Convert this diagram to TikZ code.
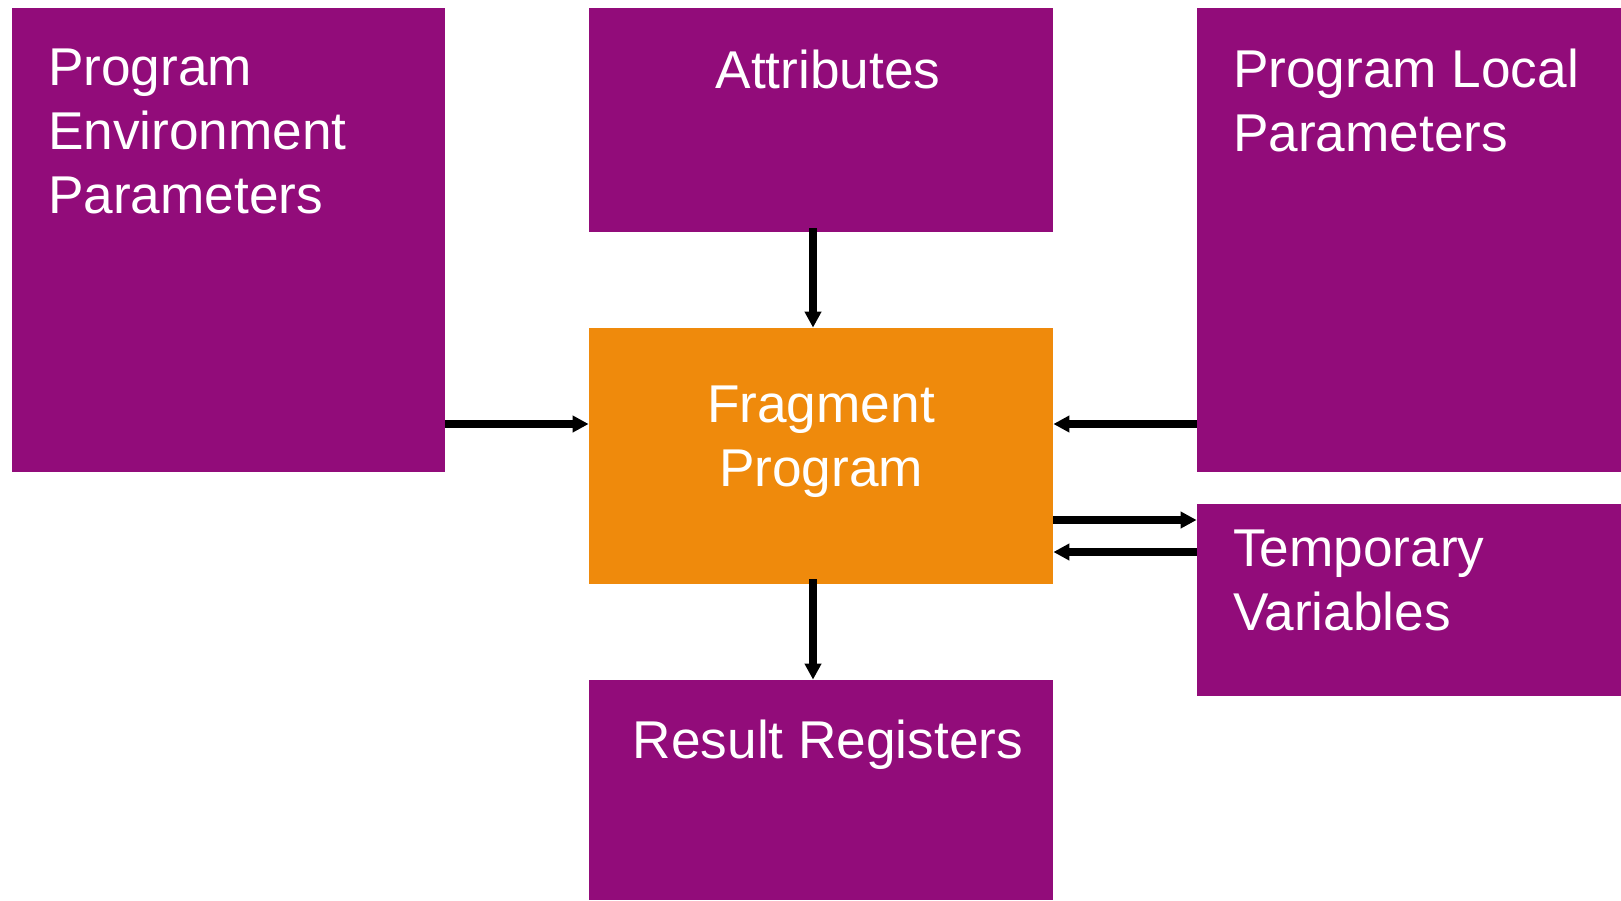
\documentclass[tikz,border=0pt]{standalone}
\usepackage{fontspec}
\setmainfont{Liberation Sans}
\usetikzlibrary{arrows.meta,fit}
\definecolor{progpurple}{RGB}{146,12,122}
\definecolor{progorange}{RGB}{239,138,12}
\begin{document}
\begin{tikzpicture}[x=0.5pt, y=-0.5pt,
  box/.style={fill=progpurple, draw=none, inner sep=0pt},
  txt/.style={text=white, font=\fontsize{26.6}{32}\selectfont, inner sep=0pt},
  arr/.style={-{Triangle[length=8pt,width=8pt]}, line width=3.8pt, draw=black}]
\useasboundingbox (0,0) rectangle (1621,900);
% the blocks
\node[box, fit={(12,8) (445,472)}] (env) {};
\node[box, fit={(589,8) (1053,232)}] (attr) {};
\node[box, fit={(1197,8) (1621,472)}] (local) {};
\node[box, fill=progorange, fit={(589,328) (1053,584)}] (frag) {};
\node[box, fit={(1197,504) (1621,696)}] (temp) {};
\node[box, fit={(589,680) (1053,900)}] (result) {};
% their texts
\node[txt, anchor=north west, align=left] (envtext) at ([shift={(36,41)}]env.north west) {Program\\Environment\\Parameters};
\node[txt, anchor=north] (attrtext) at ([shift={(7,41.5)}]attr.north) {Attributes};
\node[txt, anchor=north west, align=left] (localtext) at ([shift={(36,41)}]local.north west) {Program Local\\Parameters};
\node[txt, anchor=north, align=center] (fragtext) at ([shift={(0,58)}]frag.north) {Fragment\\Program};
\node[txt, anchor=north west, align=left] (temptext) at ([shift={(36,26)}]temp.north west) {Temporary\\Variables};
\node[txt, anchor=north] (resulttext) at ([shift={(7,40)}]result.north) {Result Registers};
% where the side arrows meet the blocks
\coordinate (fragin) at ([yshift=16pt]frag.west);
\coordinate (tempin) at ([yshift=40pt]temp.west);
\coordinate (tempout) at ([yshift=24pt]temp.west);
% arrows
\draw[arr] (env.east |- fragin) -- (fragin);
\draw[arr] (local.west |- fragin) -- (frag.east |- fragin);
\draw[arr] (frag.east |- tempin) -- (tempin);
\draw[arr] (tempout) -- (frag.east |- tempout);
\draw[arr] ([xshift=-4pt,yshift=2pt]attr.south) -- ([xshift=-4pt]frag.north);
\draw[arr] ([xshift=-4pt,yshift=2.5pt]frag.south) -- ([xshift=-4pt]result.north);
\end{tikzpicture}
\end{document}
